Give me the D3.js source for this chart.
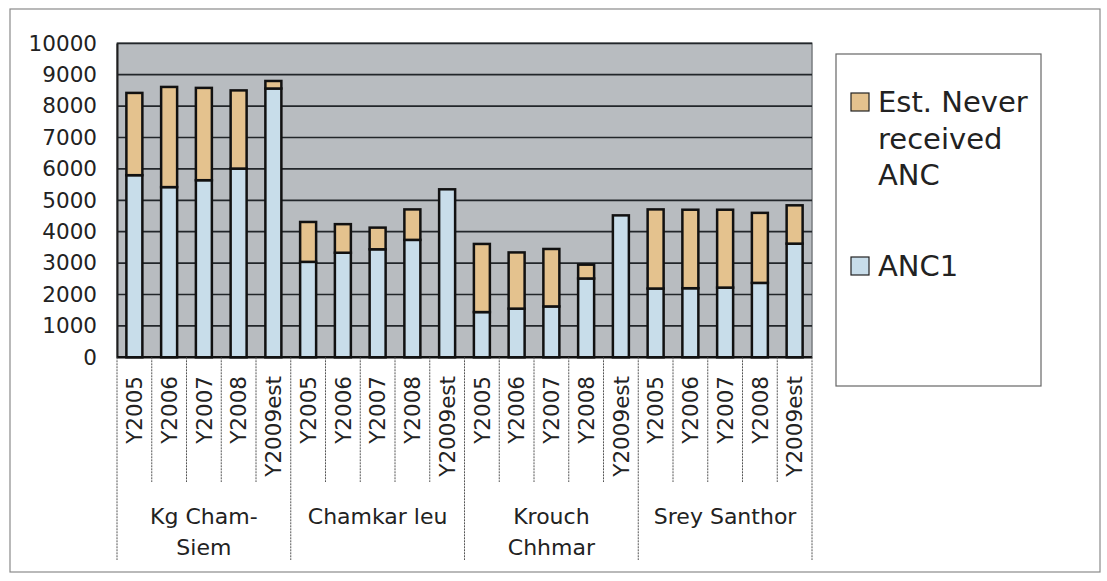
<!DOCTYPE html>
<html>
<head>
<meta charset="utf-8">
<script src="https://cdnjs.cloudflare.com/ajax/libs/d3/7.8.5/d3.min.js"></script>
<style>
  body { margin: 0; background: #fff; }
  text { font-family: "DejaVu Sans", sans-serif; fill: #222; }
</style>
</head>
<body>
<script>
// data
var groups = ["Kg Cham-Siem", "Chamkar leu", "Krouch Chhmar", "Srey Santhor"];
var groupLines = [["Kg Cham-", "Siem"], ["Chamkar leu"], ["Krouch", "Chhmar"], ["Srey Santhor"]];
var years = ["Y2005", "Y2006", "Y2007", "Y2008", "Y2009est"];

var anc1 = [5800, 5420, 5640, 6010, 8560,
            3040, 3330, 3440, 3740, 5350,
            1440, 1550, 1620, 2510, 4520,
            2190, 2200, 2220, 2370, 3620];
var neverAnc = [2620, 3190, 2940, 2490, 240,
                1270, 910, 690, 970, 0,
                2170, 1790, 1830, 440, 0,
                2520, 2500, 2480, 2230, 1220];

var yTicks = [0, 1000, 2000, 3000, 4000, 5000, 6000, 7000, 8000, 9000, 10000];
var seriesNames = ["Est. Never received ANC", "ANC1"];

(function(){
    var W = 1107, H = 581;
    var plot = {left: 117, right: 812, top: 43.3, bottom: 357.3};

    var rows = [];
    groups.forEach(function(g, gi) {
        years.forEach(function(yr, yi) {
            var i = gi * years.length + yi;
            rows.push({key: g + "|" + yr, group: g, year: yr, anc1: anc1[i], never: neverAnc[i]});
        });
    });

    var x = d3.scaleBand()
        .domain(rows.map(function(d) { return d.key; }))
        .range([plot.left, plot.right])
        .paddingInner(0.54)
        .paddingOuter(0.27);

    var y = d3.scaleLinear()
        .domain([0, 10000])
        .range([plot.bottom, plot.top]);

    var color = d3.scaleOrdinal()
        .domain(["anc1", "never"])
        .range(["#c8ddea", "#e4c28e"]);

    var svg = d3.select("body").append("svg")
        .attr("width", W)
        .attr("height", H);

    // outer frame
    svg.append("rect")
        .attr("x", 10).attr("y", 9)
        .attr("width", 1090).attr("height", 563)
        .attr("fill", "none")
        .attr("stroke", "#8a8a8a")
        .attr("stroke-width", 1.2);

    // plot background
    svg.append("rect")
        .attr("x", plot.left).attr("y", plot.top)
        .attr("width", plot.right - plot.left)
        .attr("height", plot.bottom - plot.top)
        .attr("fill", "#b8bcc0")
        .attr("stroke", "#7a7d80")
        .attr("stroke-width", 1.5);

    // gridlines
    svg.append("g")
        .selectAll("line")
        .data(yTicks.filter(function(t) { return t > 0; }))
      .enter().append("line")
        .attr("x1", plot.left).attr("x2", plot.right)
        .attr("y1", function(d) { return y(d); })
        .attr("y2", function(d) { return y(d); })
        .attr("stroke", "#22262a")
        .attr("stroke-width", 1.7);

    // y axis labels
    var yAxis = d3.axisLeft(y)
        .tickValues(yTicks)
        .tickFormat(d3.format("d"))
        .tickSize(0)
        .tickPadding(20);
    var yg = svg.append("g")
        .attr("transform", "translate(" + plot.left + ",0)")
        .call(yAxis);
    yg.select(".domain")
        .attr("stroke", "#1e1e1e")
        .attr("stroke-width", 2);
    yg.selectAll("text")
        .style("font-family", "DejaVu Sans")
        .style("font-size", "21.5px")
        .attr("fill", "#222");

    // stacked bars
    var stack = d3.stack().keys(["anc1", "never"]);
    var layers = stack(rows);

    svg.append("g")
        .selectAll("g")
        .data(layers)
      .enter().append("g")
        .attr("fill", function(d) { return color(d.key); })
        .selectAll("rect")
        .data(function(d) { return d; })
      .enter().append("rect")
        .attr("x", function(d) { return x(d.data.key); })
        .attr("y", function(d) { return y(d[1]); })
        .attr("width", x.bandwidth())
        .attr("height", function(d) { return y(d[0]) - y(d[1]); })
        .attr("stroke", "#111")
        .attr("stroke-width", function(d) { return d[1] > d[0] ? 2.5 : 0; });

    // x axis line
    svg.append("line")
        .attr("x1", plot.left).attr("x2", plot.right)
        .attr("y1", plot.bottom).attr("y2", plot.bottom)
        .attr("stroke", "#111")
        .attr("stroke-width", 2.4);

    // category separators below axis
    var step = x.step();
    var seps = d3.range(rows.length + 1);
    svg.append("g")
        .selectAll("line")
        .data(seps)
      .enter().append("line")
        .attr("x1", function(i) { return plot.left + i * step; })
        .attr("x2", function(i) { return plot.left + i * step; })
        .attr("y1", plot.bottom)
        .attr("y2", function(i) { return i % years.length === 0 ? 560 : 482; })
        .attr("stroke", "#555")
        .attr("stroke-width", 1)
        .attr("stroke-dasharray", "2,1");

    // year labels, rotated
    svg.append("g")
        .selectAll("text")
        .data(rows)
      .enter().append("text")
        .attr("transform", function(d) {
            return "translate(" + (x(d.key) + x.bandwidth() / 2) + ",376) rotate(-90)";
        })
        .attr("dy", "0.36em")
        .style("text-anchor", "end")
        .style("font-size", "21.5px")
        .text(function(d) { return d.year; });

    // group labels
    var gl = svg.append("g")
        .selectAll("text")
        .data(groups)
      .enter().append("text")
        .attr("x", function(d, i) { return plot.left + (i + 0.5) * years.length * step; })
        .attr("y", 524)
        .style("text-anchor", "middle")
        .style("font-size", "22px");

    gl.selectAll("tspan")
        .data(function(d, i) { return groupLines[i]; })
      .enter().append("tspan")
        .attr("x", function() { return d3.select(this.parentNode).attr("x"); })
        .attr("dy", function(d, i) { return i === 0 ? 0 : 31; })
        .text(function(d) { return d; });

    // legend
    var lg = svg.append("g");
    lg.append("rect")
        .attr("x", 836).attr("y", 54)
        .attr("width", 205).attr("height", 332)
        .attr("fill", "#fff")
        .attr("stroke", "#666")
        .attr("stroke-width", 1.2);

    var legendItems = [
        {key: "never", lines: ["Est. Never", "received", "ANC"], y: 112},
        {key: "anc1", lines: ["ANC1"], y: 276}
    ];

    var li = lg.selectAll(".legend")
        .data(legendItems)
      .enter().append("g")
        .attr("class", "legend");

    li.append("rect")
        .attr("x", 851)
        .attr("y", function(d) { return d.y - 19; })
        .attr("width", 18)
        .attr("height", 18)
        .attr("fill", function(d) { return color(d.key); })
        .attr("stroke", "#222")
        .attr("stroke-width", 1.2);

    li.append("text")
        .attr("x", 878)
        .attr("y", function(d) { return d.y; })
        .style("font-size", "29px")
        .selectAll("tspan")
        .data(function(d) { return d.lines; })
      .enter().append("tspan")
        .attr("x", 878)
        .attr("dy", function(d, i) { return i === 0 ? 0 : 36.5; })
        .text(function(d) { return d; });
})();
</script>
</body>
</html>
